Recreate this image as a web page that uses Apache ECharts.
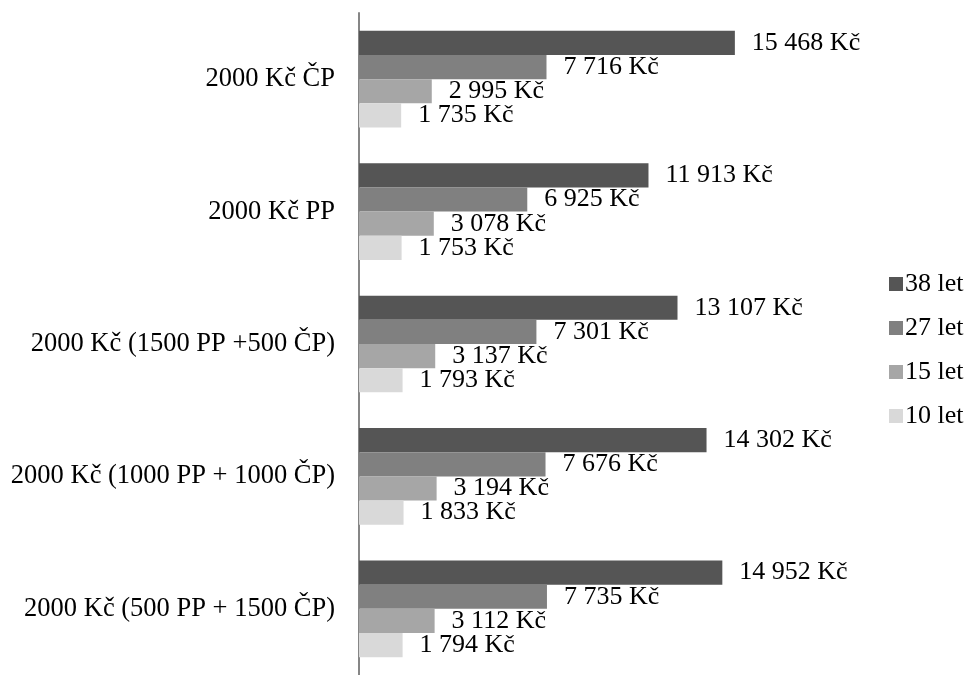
<!DOCTYPE html>
<html>
<head>
<meta charset="utf-8">
<script src="https://cdn.jsdelivr.net/npm/echarts@6/dist/echarts.min.js"></script>
<style>html,body{margin:0;padding:0;background:#fff}#c{width:969px;height:675px}</style>
</head>
<body>
<div id="c"></div>
<script>
const categories = ["2000 Kč ČP", "2000 Kč PP", "2000 Kč (1500 PP +500 ČP)", "2000 Kč (1000 PP + 1000 ČP)", "2000 Kč (500 PP + 1500 ČP)"];
const seriesNames = ["38 let", "27 let", "15 let", "10 let"];
const v38 = [15468, 11913, 13107, 14302, 14952];
const v27 = [7716, 6925, 7301, 7676, 7735];
const v15 = [2995, 3078, 3137, 3194, 3112];
const v10 = [1735, 1753, 1793, 1833, 1794];
const colors = ["#555555", "#808080", "#a6a6a6", "#d9d9d9"];
const values = [v38, v27, v15, v10];
const FONT = "'Liberation Serif', 'Times New Roman', serif";
const fmt = v => String(v).replace(/\B(?=(\d{3})+(?!\d))/g, " ") + " Kč";

const chart = echarts.init(document.getElementById('c'), null, {renderer: 'canvas'});
chart.setOption({
  animation: false,
  backgroundColor: '#ffffff',
  textStyle: {fontFamily: FONT},
  grid: {left: 359, top: 13, width: 486, height: 669},
  legend: {
    orient: 'vertical', left: 884, top: 266,
    itemWidth: 14, itemHeight: 14, itemGap: 18, icon: 'rect',
    textStyle: {fontFamily: FONT, fontSize: 26, color: '#000', padding: [0,0,0,-3]},
    data: seriesNames
  },
  xAxis: {
    type: 'value', min: 0, max: 20000,
    show: false
  },
  yAxis: {
    type: 'category', inverse: true, data: categories,
    axisLine: {show: true, lineStyle: {color: '#868686', width: 2}},
    axisTick: {show: false},
    axisLabel: {fontFamily: FONT, fontSize: 26.5, color: '#000', margin: 24}
  },
  series: seriesNames.map((n, i) => ({
    name: n, type: 'bar', data: values[i],
    barGap: '0%', barCategoryGap: '27%',
    itemStyle: {color: colors[i]},
    label: {show: true, position: 'right', distance: 17, formatter: p => fmt(p.value),
      fontFamily: FONT, fontSize: 26, color: '#000'}
  }))
});
</script>
</body>
</html>
